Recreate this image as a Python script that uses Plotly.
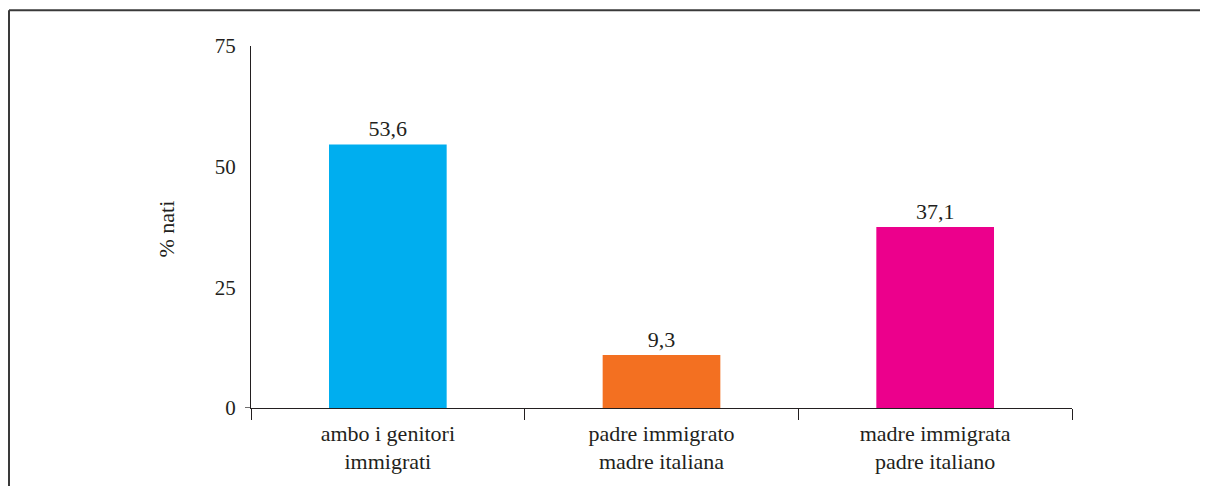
import plotly.graph_objects as go

categories = ["ambo i genitori<br>immigrati", "padre immigrato<br>madre italiana", "madre immigrata<br>padre italiano"]
bar_heights = [54.6, 11.0, 37.5]          # heights as drawn in the picture
value_labels = ["53,6", "9,3", "37,1"]    # printed labels
colors = ["#00AEEF", "#F37021", "#EC008C"]
y_ticks = [0, 25, 50, 75]
y_title = "% nati"

FONT = "Liberation Serif"
INK = "#231F20"
OFF = 8  # page body margin

fig = go.Figure()
fig.add_trace(go.Bar(
    x=categories, y=bar_heights, marker=dict(color=colors, line=dict(width=0)),
    text=value_labels, textposition="outside", cliponaxis=False,
    textfont=dict(family=FONT, size=22, color=INK),
))

W, H = 1208 - OFF, 486 - OFF
L, R, T, B = 251 - OFF, 1072 - OFF, 46 - OFF, 410 - OFF
fig.update_layout(
    width=W, height=H,
    margin=dict(l=L, r=W - R, t=T, b=H - B, pad=0),
    paper_bgcolor="white", plot_bgcolor="white",
    showlegend=False, bargap=0.57,
    font=dict(family=FONT, size=22, color=INK),
)
fig.update_xaxes(
    showline=True, linecolor=INK, linewidth=1.3,
    ticks="outside", tickson="boundaries", ticklen=11, tickwidth=1.3, tickcolor=INK,
    ticklabelstandoff=5,
    showgrid=False, zeroline=False,
    tickfont=dict(family=FONT, size=22, color=INK),
)
fig.update_yaxes(
    range=[0, 75], tickvals=y_ticks, ticktext=[str(v) for v in y_ticks],
    showline=True, linecolor=INK, linewidth=1.3, ticks="",
    ticklabelstandoff=10,
    showgrid=False, zeroline=False,
    tickfont=dict(family=FONT, size=21, color=INK),
)
pw = R - L
ph = B - T
# small extension of the baseline left of the y axis
fig.add_shape(type="line", xref="paper", yref="y", x0=-6 / pw, x1=0, y0=0, y1=0,
              line=dict(color=INK, width=1.3))
# frame lines (top and left)
fx = 9 - OFF
fy = 10 - OFF
fig.add_shape(type="line", xref="paper", yref="paper",
              x0=(fx - L) / pw, x1=(W + 20 - L) / pw, y0=(B - fy) / ph, y1=(B - fy) / ph,
              line=dict(color="#3a3a3a", width=2))
fig.add_shape(type="line", xref="paper", yref="paper",
              x0=(fx - L) / pw, x1=(fx - L) / pw, y0=(B - fy) / ph, y1=(B - H - 20) / ph,
              line=dict(color="#3a3a3a", width=2))
fig.add_annotation(text=y_title, xref="paper", yref="paper",
                   x=(152 - OFF - L) / pw, y=(B - (230 - OFF)) / ph, textangle=-90,
                   showarrow=False, font=dict(family=FONT, size=22, color=INK))

fig.write_html("out.html")
